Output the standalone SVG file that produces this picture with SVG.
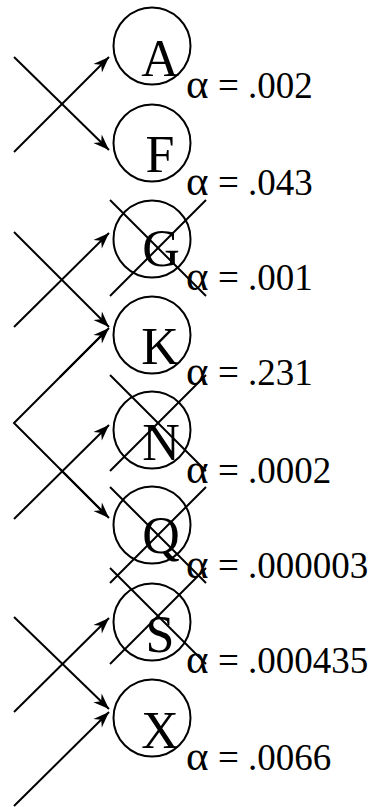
<svg xmlns="http://www.w3.org/2000/svg" width="374" height="807" viewBox="0 0 374 807">
<defs>
<style>
.c{fill:none;stroke:#000;stroke-width:2}
.l{fill:none;stroke:#000;stroke-width:2}
.a{stroke:#000;stroke-width:2;fill:none;marker-end:url(#ah)}
.t{font-family:"Liberation Serif","Times New Roman",serif;font-size:52px;text-anchor:middle;fill:#000}
.v{font-family:"Liberation Serif","Times New Roman",serif;font-size:37px;fill:#000}
.al{font-size:43px}
</style>
<marker id="ah" markerUnits="userSpaceOnUse" markerWidth="20" markerHeight="16" viewBox="-17 -8 20 16" refX="0" refY="0" orient="auto">
<path d="M0,0 L-16,-6 L-11,0 L-16,6 Z" fill="#000"/>
</marker>
</defs>
<g id="connectors">
<line class="a" x1="14" y1="57" x2="109" y2="150"/>
<line class="a" x1="14" y1="152" x2="109" y2="57"/>
<line class="a" x1="14" y1="232" x2="109" y2="327"/>
<line class="a" x1="14" y1="327" x2="109" y2="233"/>
<polyline class="l" points="107,330 14,423 107,516"/>
<line class="a" x1="60" y1="377" x2="109" y2="328"/>
<line class="a" x1="60" y1="469" x2="109" y2="518"/>
<line class="a" x1="14" y1="519" x2="109" y2="425"/>
<line class="a" x1="14" y1="617" x2="109" y2="709"/>
<line class="a" x1="14" y1="712" x2="109" y2="618"/>
<line class="a" x1="14" y1="806" x2="109" y2="712"/>
</g>
<g id="node-A"><circle class="c" cx="152" cy="46" r="38.5"/><text class="t" x="160" y="76">A</text><text class="v" x="186" y="98"><tspan class="al">α</tspan><tspan x="218">= .002</tspan></text></g>
<g id="node-F"><circle class="c" cx="152" cy="143" r="38.5"/><text class="t" x="160" y="172">F</text><text class="v" x="186" y="195"><tspan class="al">α</tspan><tspan x="218">= .043</tspan></text></g>
<g id="node-G"><circle class="c" cx="152" cy="239" r="38.5"/><text class="t" x="161" y="266">G</text><line class="l" x1="110" y1="200" x2="206" y2="296"/><line class="l" x1="110" y1="296" x2="206" y2="200"/><text class="v" x="186" y="290"><tspan class="al">α</tspan><tspan x="218">= .001</tspan></text></g>
<g id="node-K"><circle class="c" cx="152" cy="335" r="38.5"/><text class="t" x="160" y="364">K</text><text class="v" x="186" y="385"><tspan class="al">α</tspan><tspan x="218">= .231</tspan></text></g>
<g id="node-N"><circle class="c" cx="152" cy="430" r="38.5"/><text class="t" x="161" y="460">N</text><line class="l" x1="110" y1="375" x2="206" y2="471"/><line class="l" x1="110" y1="471" x2="206" y2="375"/><text class="v" x="186" y="483"><tspan class="al">α</tspan><tspan x="218">= .0002</tspan></text></g>
<g id="node-Q"><circle class="c" cx="152" cy="525" r="38.5"/><text class="t" x="161" y="553">Q</text><line class="l" x1="110" y1="487" x2="206" y2="583"/><line class="l" x1="110" y1="583" x2="206" y2="487"/><text class="v" x="186" y="578"><tspan class="al">α</tspan><tspan x="218">= .000003</tspan></text></g>
<g id="node-S"><circle class="c" cx="152" cy="622" r="38.5"/><text class="t" x="160" y="652">S</text><line class="l" x1="110" y1="568" x2="206" y2="664"/><line class="l" x1="110" y1="664" x2="206" y2="568"/><text class="v" x="186" y="673"><tspan class="al">α</tspan><tspan x="218">= .000435</tspan></text></g>
<g id="node-X"><circle class="c" cx="152" cy="718" r="38.5"/><text class="t" x="160" y="748">X</text><text class="v" x="186" y="770"><tspan class="al">α</tspan><tspan x="218">= .0066</tspan></text></g>
</svg>
